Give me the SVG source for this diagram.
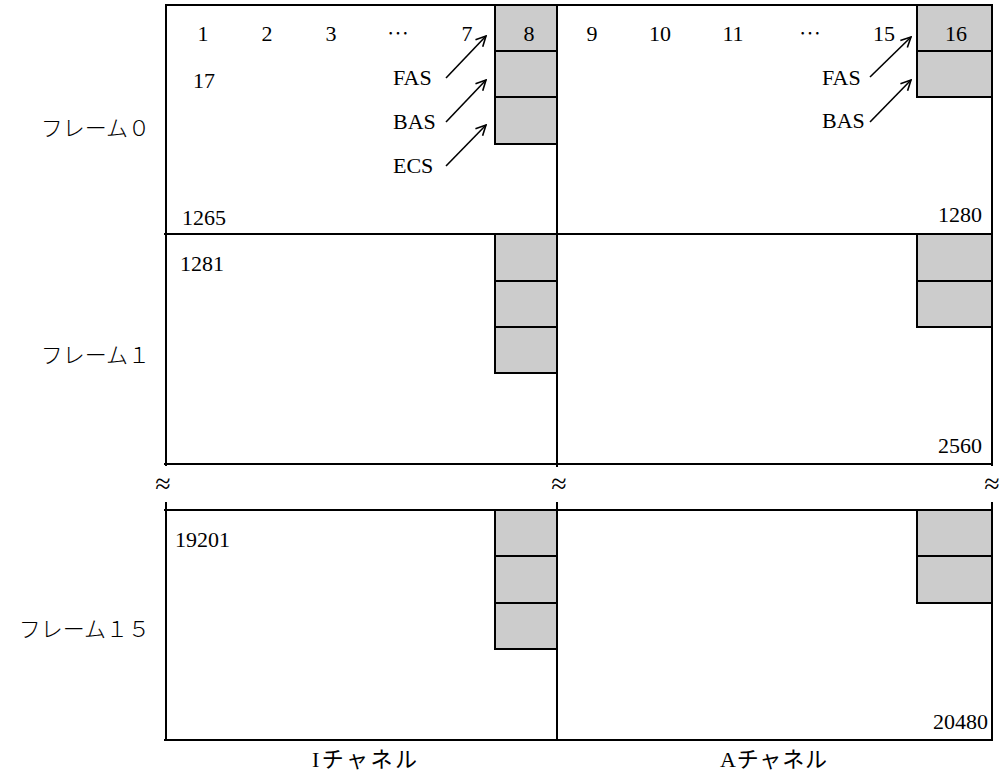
<svg xmlns="http://www.w3.org/2000/svg" width="1001" height="784" viewBox="0 0 1001 784">
<style>
.ln{stroke:#000;stroke-width:2;fill:none}
.cell{fill:#cccccc;stroke:#000;stroke-width:2}
.t{font-family:"Liberation Serif","Noto Sans CJK JP",serif;font-size:22px;fill:#000}
.j{font-family:"Noto Sans CJK JP",sans-serif;font-size:22px;fill:#000;font-weight:300}
.m{text-anchor:middle}
.e{text-anchor:end}
.ap{font-family:"Liberation Serif",serif;font-size:28px;fill:#000;text-anchor:middle}
.arw{stroke:#000;stroke-width:1.6;fill:none;marker-end:url(#arr)}
</style>
<defs>
<marker id="arr" viewBox="0 0 12 12" refX="11" refY="6" markerWidth="12" markerHeight="12" markerUnits="userSpaceOnUse" orient="auto">
<path d="M1,1 L11,6 L1,11" fill="none" stroke="#000" stroke-width="1.6"/>
</marker>
</defs>
<rect width="1001" height="784" fill="#fff"/>

<g id="frame0">
<rect class="cell" x="495" y="5" width="62" height="46"/>
<rect class="cell" x="495" y="51" width="62" height="46"/>
<rect class="cell" x="495" y="97" width="62" height="47"/>
<rect class="cell" x="917" y="5" width="75" height="46"/>
<rect class="cell" x="917" y="51" width="75" height="46"/>
<path class="ln" d="M165,5 H992 V234 M164,234 H993 M166,5 V234 M557,5 V234"/>
<text class="t m" x="203" y="41">1</text>
<text class="t m" x="267" y="41">2</text>
<text class="t m" x="331" y="41">3</text>
<text class="j m" x="398" y="41">…</text>
<text class="t m" x="467" y="41">7</text>
<text class="t m" x="529" y="41">8</text>
<text class="t m" x="592" y="41">9</text>
<text class="t m" x="660" y="41">10</text>
<text class="t m" x="733" y="41">11</text>
<text class="j m" x="810" y="41">…</text>
<text class="t m" x="884" y="41">15</text>
<text class="t m" x="956" y="41">16</text>
<text class="t" x="193" y="88">17</text>
<text class="t" x="393" y="85">FAS</text>
<text class="t" x="393" y="129">BAS</text>
<text class="t" x="393" y="173">ECS</text>
<text class="t" x="822" y="85">FAS</text>
<text class="t" x="822" y="128">BAS</text>
<text class="t" x="182" y="225">1265</text>
<text class="t e" x="982" y="222">1280</text>
</g>

<g id="frame1">
<rect class="cell" x="495" y="234" width="62" height="47"/>
<rect class="cell" x="495" y="281" width="62" height="46"/>
<rect class="cell" x="495" y="327" width="62" height="46"/>
<rect class="cell" x="917" y="234" width="75" height="47"/>
<rect class="cell" x="917" y="281" width="75" height="46"/>
<path class="ln" d="M166,234 V466 M557,234 V467 M992,234 V466 M164,464 H993"/>
<text class="t" x="180" y="271">1281</text>
<text class="t e" x="982" y="453">2560</text>
</g>

<g id="break">
<text class="ap" x="163" y="493">≈</text>
<text class="ap" x="559" y="493">≈</text>
<text class="ap" x="992" y="493">≈</text>
</g>

<g id="frame15">
<rect class="cell" x="495" y="510" width="62" height="46"/>
<rect class="cell" x="495" y="556" width="62" height="47"/>
<rect class="cell" x="495" y="603" width="62" height="46"/>
<rect class="cell" x="917" y="510" width="75" height="46"/>
<rect class="cell" x="917" y="556" width="75" height="47"/>
<path class="ln" d="M166,502 V740 M557,502 V740 M992,502 V740 M164,510 H993 M164,740 H993"/>
<text class="t" x="175" y="547">19201</text>
<text class="t e" x="988" y="729">20480</text>
</g>

<g id="labels">
<text class="j e" x="150" y="136">フレーム０</text>
<text class="j e" x="150" y="363">フレーム１</text>
<text class="j e" x="150" y="637">フレーム１５</text>
<text class="t" x="312" y="767" textLength="105" lengthAdjust="spacing">Iチャネル</text>
<text class="t" x="720" y="767" textLength="107" lengthAdjust="spacing">Aチャネル</text>
</g>

<g id="connectors">
<line class="arw" x1="446" y1="78" x2="486" y2="36"/>
<line class="arw" x1="446" y1="122" x2="486" y2="80"/>
<line class="arw" x1="446" y1="166" x2="486" y2="125"/>
<line class="arw" x1="870" y1="77" x2="911" y2="37"/>
<line class="arw" x1="870" y1="122" x2="911" y2="80"/>
</g>
</svg>
